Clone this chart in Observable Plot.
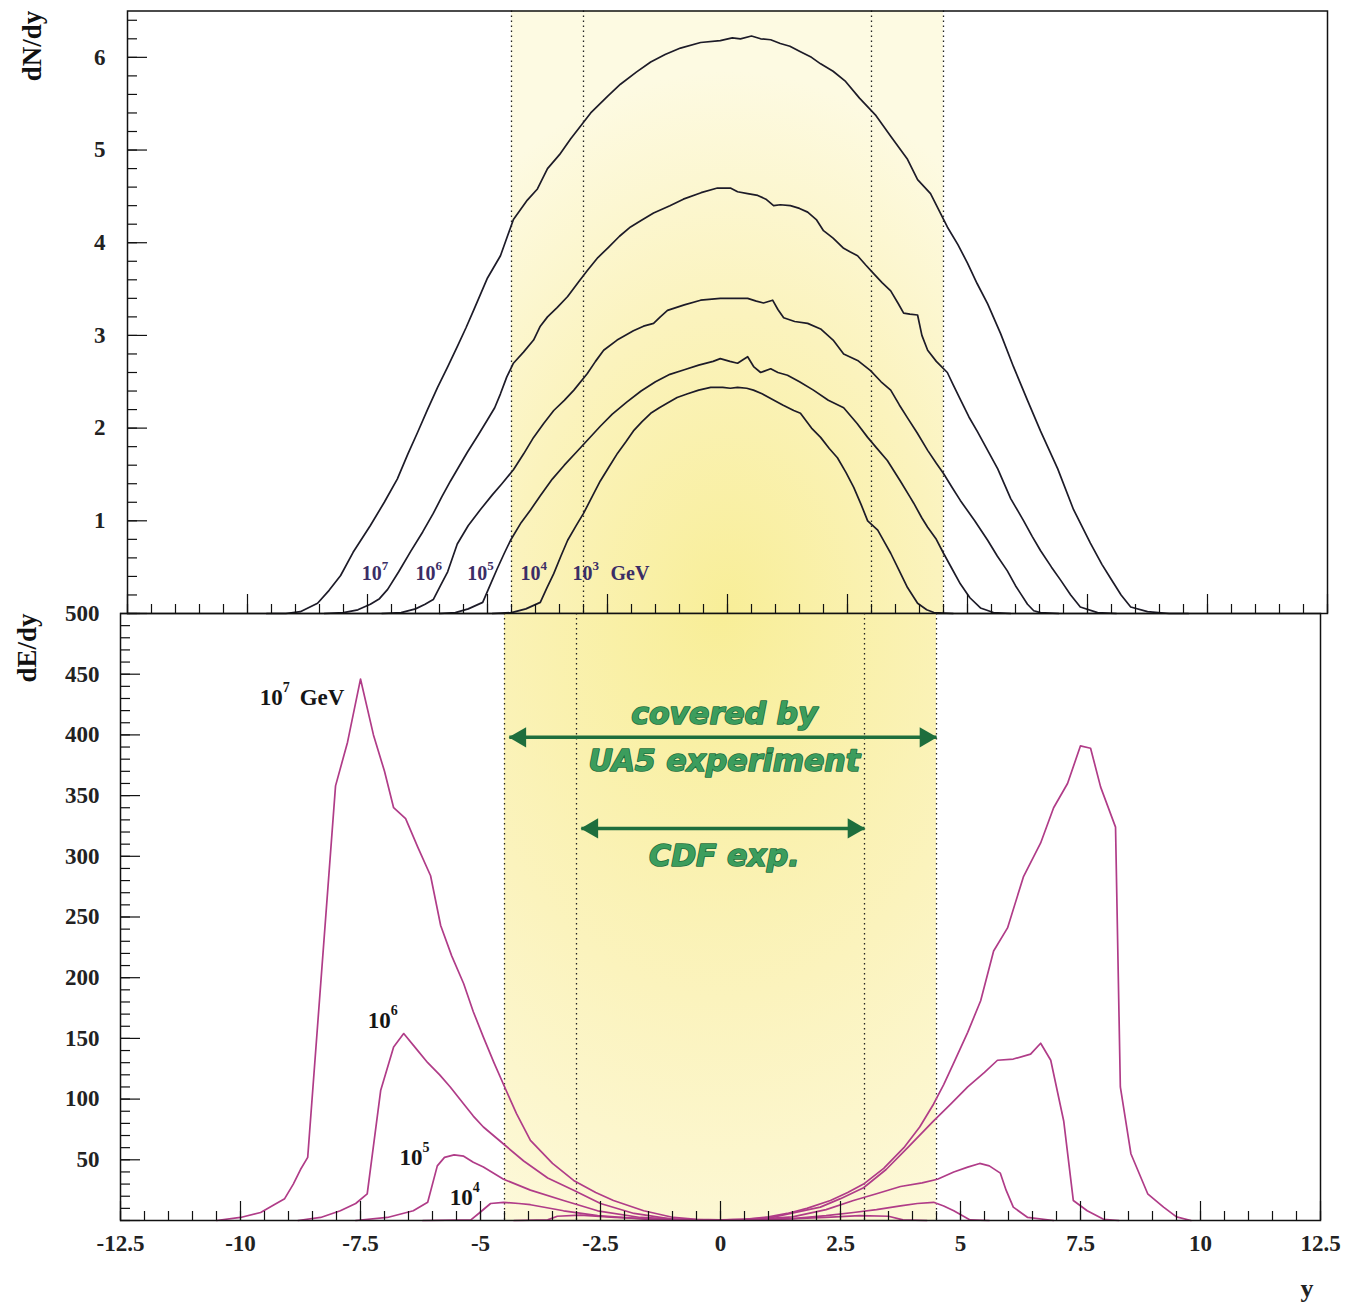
<!DOCTYPE html>
<html><head><meta charset="utf-8">
<script src="https://cdn.jsdelivr.net/npm/d3@7"></script>
<script src="https://cdn.jsdelivr.net/npm/@observablehq/plot@0.6"></script>
<style>
body{margin:0;background:#fff;}
#wrap{position:relative;width:1359px;height:1309px;overflow:hidden;background:#fff;}
.pbox{position:absolute;left:0;}
.ylab{position:absolute;font:bold 27px "Liberation Serif",serif;color:#111;white-space:nowrap;transform:translate(-50%,-50%) rotate(-90deg);}
</style></head><body>
<div id="wrap">
<svg width="0" height="0" style="position:absolute">
  <defs>
    <radialGradient id="bandTop" cx="0.5" cy="1.0" r="0.9">
      <stop offset="0" stop-color="#f8ee98"/>
      <stop offset="0.55" stop-color="#fbf3bd"/>
      <stop offset="1" stop-color="#fdfae2"/>
    </radialGradient>
    <radialGradient id="bandBottom" cx="0.5" cy="0.0" r="1.15">
      <stop offset="0" stop-color="#f8ee98"/>
      <stop offset="0.55" stop-color="#fbf3bd"/>
      <stop offset="1" stop-color="#fdf9dc"/>
    </radialGradient>
  </defs>
</svg>
<div id="top" class="pbox" style="top:0"></div>
<div id="bottom" class="pbox" style="top:600px"></div>
<div class="ylab" style="left:32px;top:46px">dN/dy</div>
<div class="ylab" style="left:27px;top:648px">dE/dy</div>
</div>
<script>
// ---------- data: dN/dy (top panel), [rapidity y, dN/dy] ----------
const dN_1e7 = [[-9.6,0],[-9.2,0],[-8.9,0.02],[-8.54,0.11],[-8.3,0.25],[-8.06,0.41],[-7.8,0.66],[-7.44,0.95],[-7.15,1.2],[-6.88,1.45],[-6.66,1.72],[-6.46,1.95],[-6.25,2.2],[-6.04,2.44],[-5.83,2.66],[-5.63,2.88],[-5.45,3.08],[-5.29,3.27],[-5.0,3.62],[-4.73,3.86],[-4.46,4.25],[-4.17,4.46],[-3.96,4.58],[-3.75,4.8],[-3.5,4.95],[-3.27,5.12],[-2.85,5.4],[-2.5,5.58],[-2.23,5.71],[-1.9,5.84],[-1.6,5.95],[-1.3,6.03],[-0.98,6.1],[-0.56,6.16],[-0.15,6.18],[0.1,6.21],[0.27,6.2],[0.5,6.23],[0.69,6.2],[0.9,6.19],[1.1,6.15],[1.3,6.12],[1.52,6.06],[1.75,6.0],[1.94,5.93],[2.2,5.85],[2.46,5.74],[2.75,5.56],[3.08,5.38],[3.4,5.15],[3.75,4.9],[3.96,4.68],[4.23,4.53],[4.58,4.17],[4.8,3.98],[5.0,3.78],[5.2,3.56],[5.42,3.34],[5.69,3.02],[5.96,2.66],[6.25,2.3],[6.52,1.97],[6.88,1.56],[7.21,1.12],[7.56,0.76],[7.8,0.53],[7.98,0.38],[8.2,0.2],[8.4,0.07],[8.75,0.02],[9.2,0],[9.6,0]];
const dN_1e6 = [[-8.4,0],[-8.0,0.01],[-7.7,0.04],[-7.44,0.1],[-7.25,0.16],[-7.08,0.26],[-6.85,0.45],[-6.6,0.67],[-6.35,0.88],[-6.13,1.08],[-5.95,1.26],[-5.77,1.43],[-5.6,1.58],[-5.42,1.74],[-5.2,1.92],[-5.0,2.09],[-4.85,2.22],[-4.73,2.37],[-4.6,2.55],[-4.46,2.7],[-4.25,2.82],[-4.04,2.95],[-3.9,3.1],[-3.75,3.2],[-3.55,3.3],[-3.33,3.42],[-3.1,3.58],[-2.92,3.7],[-2.7,3.84],[-2.48,3.95],[-2.25,4.07],[-2.02,4.17],[-1.8,4.24],[-1.54,4.32],[-1.2,4.4],[-0.92,4.47],[-0.55,4.54],[-0.21,4.59],[0.06,4.59],[0.21,4.55],[0.42,4.53],[0.63,4.51],[0.8,4.47],[0.96,4.4],[1.1,4.41],[1.31,4.4],[1.5,4.37],[1.67,4.33],[1.85,4.25],[2.0,4.13],[2.2,4.05],[2.42,3.94],[2.56,3.9],[2.71,3.86],[2.88,3.76],[3.04,3.67],[3.22,3.57],[3.4,3.48],[3.55,3.35],[3.67,3.24],[3.8,3.23],[3.96,3.22],[4.05,3.0],[4.17,2.84],[4.35,2.72],[4.58,2.6],[4.7,2.47],[4.85,2.31],[5.03,2.12],[5.21,1.96],[5.42,1.76],[5.63,1.56],[5.9,1.24],[6.17,1.0],[6.35,0.83],[6.52,0.68],[6.75,0.5],[6.94,0.36],[7.15,0.2],[7.35,0.07],[7.71,0.01],[8.1,0]];
const dN_1e5 = [[-7.2,0],[-6.8,0.01],[-6.5,0.05],[-6.3,0.1],[-6.13,0.15],[-5.98,0.3],[-5.83,0.45],[-5.63,0.75],[-5.4,0.95],[-5.15,1.12],[-4.9,1.28],[-4.7,1.4],[-4.46,1.55],[-4.25,1.72],[-4.04,1.9],[-3.83,2.05],[-3.62,2.19],[-3.4,2.3],[-3.2,2.41],[-2.92,2.59],[-2.75,2.72],[-2.58,2.84],[-2.3,2.95],[-1.96,3.05],[-1.75,3.1],[-1.54,3.13],[-1.4,3.2],[-1.25,3.27],[-0.9,3.33],[-0.56,3.38],[-0.15,3.4],[0.15,3.4],[0.42,3.4],[0.6,3.37],[0.75,3.35],[0.94,3.38],[1.05,3.28],[1.17,3.19],[1.4,3.15],[1.67,3.13],[1.94,3.07],[2.2,2.95],[2.42,2.8],[2.71,2.73],[2.98,2.62],[3.2,2.5],[3.4,2.41],[3.58,2.25],[3.75,2.11],[3.95,1.95],[4.17,1.76],[4.35,1.62],[4.5,1.51],[4.68,1.36],[4.85,1.22],[5.15,1.0],[5.42,0.79],[5.62,0.62],[5.83,0.46],[6.0,0.3],[6.1,0.22],[6.25,0.1],[6.38,0.03],[6.52,0.01],[6.9,0]];
const dN_1e4 = [[-6.0,0],[-5.67,0.01],[-5.4,0.05],[-5.1,0.12],[-4.95,0.3],[-4.8,0.48],[-4.65,0.65],[-4.52,0.79],[-4.3,0.98],[-4.1,1.12],[-3.9,1.27],[-3.65,1.45],[-3.4,1.6],[-3.15,1.74],[-2.9,1.88],[-2.65,2.02],[-2.4,2.15],[-2.1,2.28],[-1.8,2.4],[-1.5,2.5],[-1.2,2.58],[-0.9,2.63],[-0.6,2.68],[-0.3,2.72],[-0.15,2.75],[0.05,2.72],[0.21,2.7],[0.33,2.74],[0.42,2.77],[0.55,2.66],[0.69,2.6],[0.9,2.64],[1.05,2.6],[1.25,2.57],[1.5,2.5],[1.79,2.41],[2.1,2.3],[2.42,2.22],[2.7,2.05],[2.92,1.9],[3.1,1.79],[3.33,1.65],[3.6,1.43],[3.81,1.25],[3.88,1.19],[4.05,1.03],[4.17,0.93],[4.35,0.8],[4.5,0.65],[4.68,0.48],[4.85,0.32],[5.05,0.17],[5.27,0.06],[5.54,0.01],[5.9,0]];
const dN_1e3 = [[-4.9,0],[-4.5,0.01],[-4.2,0.05],[-3.9,0.12],[-3.76,0.28],[-3.62,0.43],[-3.47,0.62],[-3.33,0.79],[-3.15,0.95],[-3.0,1.08],[-2.82,1.26],[-2.65,1.43],[-2.47,1.58],[-2.29,1.73],[-2.12,1.85],[-1.96,1.97],[-1.78,2.07],[-1.6,2.16],[-1.42,2.22],[-1.25,2.27],[-1.05,2.33],[-0.83,2.37],[-0.6,2.41],[-0.35,2.44],[-0.1,2.44],[0.06,2.43],[0.21,2.44],[0.4,2.43],[0.54,2.41],[0.72,2.37],[0.9,2.32],[1.15,2.25],[1.38,2.19],[1.52,2.16],[1.75,2.0],[1.94,1.9],[2.12,1.78],[2.29,1.68],[2.47,1.52],[2.63,1.36],[2.78,1.18],[2.92,1.0],[3.13,0.9],[3.27,0.77],[3.4,0.65],[3.58,0.46],[3.75,0.28],[3.96,0.11],[4.15,0.04],[4.3,0.01],[4.7,0]];

// ---------- data: dE/dy (bottom panel), [rapidity y, dE/dy] ----------
const dE_1e7 = [[-10.5,0],[-10.0,2.5],[-9.58,6.6],[-9.3,13],[-9.08,18],[-8.9,30],[-8.75,42],[-8.6,52],[-8.02,358],[-7.77,394],[-7.5,446],[-7.23,400],[-7.0,370],[-6.81,340],[-6.56,331],[-6.3,307],[-6.04,284],[-5.83,243],[-5.6,218],[-5.35,195],[-5.15,172],[-4.94,151],[-4.72,130],[-4.52,112],[-4.25,88],[-3.96,66],[-3.5,47],[-3.06,33],[-2.6,23],[-2.23,16.5],[-1.6,8],[-0.98,2.5],[-0.5,1],[0,0.5],[0.5,1],[1.0,3],[1.39,5.8],[1.8,10],[2.29,16.5],[2.65,23],[2.98,30],[3.4,43],[3.82,60],[4.15,77],[4.44,96],[4.65,112],[4.85,129],[5.15,155],[5.42,181],[5.69,222],[5.98,241],[6.31,283],[6.67,311],[6.94,340],[7.23,360],[7.5,391],[7.71,389],[7.92,357],[8.23,324],[8.33,110],[8.55,55],[8.9,22],[9.23,11],[9.5,3],[9.8,0]];
const dE_1e6 = [[-8.8,0],[-8.33,2.5],[-7.92,8],[-7.6,14],[-7.36,22],[-7.08,107],[-6.81,143],[-6.6,154],[-6.35,142],[-6.1,130],[-5.85,120],[-5.63,110],[-5.35,96],[-5.15,86],[-4.94,77],[-4.52,63],[-4.1,49],[-3.6,35],[-3.06,25],[-2.5,14],[-1.8,5.8],[-0.98,1],[0,0.3],[1.0,2],[2.08,11],[2.5,18],[2.98,27],[3.45,42],[3.9,60],[4.44,82],[4.8,96],[5.15,110],[5.5,122],[5.77,132],[6.1,133],[6.46,137],[6.67,146],[6.88,132],[7.15,82],[7.35,16.5],[7.64,8],[7.98,1],[8.3,0]];
const dE_1e5 = [[-7.6,0],[-6.94,2.5],[-6.4,8],[-6.1,15],[-5.9,45],[-5.75,52],[-5.55,54],[-5.35,53],[-5.15,48],[-4.94,44],[-4.52,34],[-3.96,25],[-3.27,16.5],[-2.56,8],[-1.67,2.5],[-0.5,0.3],[0.5,0.3],[1.5,3],[2.2,9],[2.77,16.5],[3.25,22],[3.75,28],[4.2,31],[4.52,34],[4.86,40],[5.15,44],[5.4,47],[5.6,45],[5.83,39],[5.95,25],[6.1,11],[6.4,2.5],[6.94,0]];
const dE_1e4 = [[-6.2,0],[-5.2,0.5],[-5.0,7],[-4.79,14],[-4.52,15],[-4.2,14],[-3.96,13],[-3.27,8],[-2.56,4],[-1.5,1],[0,0.2],[1.5,1.5],[2.2,4],[2.77,6.6],[3.25,9],[3.75,12],[4.1,14],[4.44,15],[4.65,12],[4.86,8],[5.2,0.5],[5.6,0]];
const dE_1e3 = [[-4.3,0],[-3.6,0.5],[-3.4,3.5],[-2.92,4.5],[-2.2,2.5],[-1,0.6],[0,0.2],[1,0.6],[2.2,2.5],[2.9,4],[3.5,3.5],[3.8,0.5],[4.3,0]];

// ---------- ticks / labels ----------
const xDomain = [-12.5, 12.5];
const xMinorTicks = d3.range(-12.5, 12.5001, 0.5);
const xMajorTicks = [-12.5, -10, -7.5, -5, -2.5, 0, 2.5, 5, 7.5, 10, 12.5];
const xTickLabels = ["-12.5","-10","-7.5","-5","-2.5","0","2.5","5","7.5","10","12.5"];
const dNMinorTicks = d3.range(0, 6.5001, 0.2);
const dNMajorTicks = [0, 1, 2, 3, 4, 5, 6];
const dNTickLabels = [1, 2, 3, 4, 5, 6];
const dEMinorTicks = d3.range(0, 500.001, 10);
const dEMajorTicks = d3.range(0, 500.001, 50);
const dETickLabels = [50, 100, 150, 200, 250, 300, 350, 400, 450, 500];

// ---------- annotations ----------
const ua5Range = [-4.5, 4.5];
const cdfRange = [-3, 3];
const topCurveLabels = [
  {x: -7.62, v: 0.43, exp: "7", unit: ""},
  {x: -6.5, v: 0.43, exp: "6", unit: ""},
  {x: -5.42, v: 0.43, exp: "5", unit: ""},
  {x: -4.31, v: 0.43, exp: "4", unit: ""},
  {x: -3.23, v: 0.43, exp: "3", unit: "GeV"}
];
const bottomCurveLabels = [
  {x: -9.6, v: 431, exp: "7", unit: "GeV"},
  {x: -7.35, v: 165, exp: "6", unit: ""},
  {x: -6.69, v: 52, exp: "5", unit: ""},
  {x: -5.64, v: 19, exp: "4", unit: ""}
];
// double-headed arrows: shaft from left end to right end
const greenArrows = [
  {left: -4.4, right: 4.5, v: 398},
  {left: -2.9, right: 3.0, v: 323}
];
const greenTexts = [
  {x: 0.08, v: 417, text: "covered by"},
  {x: 0.08, v: 378, text: "UA5 experiment"},
  {x: 0.08, v: 300, text: "CDF exp."}
];

const W = 1359;
const serif = "Liberation Serif, Times New Roman, serif";
const curveDark = "#1d1b28";
const curvePink = "#b03c88";
const labelPurple = "#3b2d66";
const green = "#3c9d5d", greenDark = "#1e6e3d";

function curveLabelMarks(labels, o) {
  return [
    Plot.text(labels, {x: d => d.x, y: d => d.v, text: () => "10", textAnchor: "start", fill: o.color, fontSize: o.size, fontWeight: "bold", fontFamily: serif}),
    Plot.text(labels, {x: d => d.x, y: d => d.v, text: d => d.exp, textAnchor: "start", dx: o.expDx, dy: o.expDy, fill: o.color, fontSize: o.expSize, fontWeight: "bold", fontFamily: serif}),
    Plot.text(labels.filter(d => d.unit), {x: d => d.x, y: d => d.v, text: d => d.unit, textAnchor: "start", dx: o.unitDx, fill: o.color, fontSize: o.size, fontWeight: "bold", fontFamily: serif})
  ];
}

// ---------- top panel ----------
const topFrameH = 613 - 10.5;
const topPlot = Plot.plot({
  width: W, height: 640,
  marginLeft: 127, marginRight: W - 1327, marginTop: 10.5, marginBottom: 27,
  x: {domain: xDomain, axis: null},
  y: {domain: [0, 6.5], axis: null},
  style: {background: "transparent", overflow: "visible"},
  marks: [
    Plot.rect([ua5Range], {x1: d => d[0], x2: d => d[1], y1: () => 0, y2: () => 6.5, fill: "url(#bandTop)"}),
    Plot.ruleX([...ua5Range, ...cdfRange], {x: d => d, stroke: "#222", strokeWidth: 1.3, strokeDasharray: "1.5,3.5"}),
    ...[dN_1e7, dN_1e6, dN_1e5, dN_1e4, dN_1e3].map(s =>
      Plot.line(s, {x: d => d[0], y: d => d[1], stroke: curveDark, strokeWidth: 1.7})),
    Plot.tickY(dNMinorTicks, {y: d => d, insetRight: 1200 - 10, stroke: "#111", strokeWidth: 1.2}),
    Plot.tickY(dNMajorTicks, {y: d => d, insetRight: 1200 - 20, stroke: "#111", strokeWidth: 1.2}),
    Plot.tickX(xMinorTicks, {x: d => d, insetTop: topFrameH - 9, stroke: "#111", strokeWidth: 1.2}),
    Plot.tickX(xMajorTicks, {x: d => d, insetTop: topFrameH - 19, stroke: "#111", strokeWidth: 1.2}),
    Plot.text(dNTickLabels, {y: d => d, frameAnchor: "left", dx: -22, textAnchor: "end", text: d => String(d), fontSize: 23, fontWeight: "bold", fontFamily: serif, fill: "#222"}),
    ...curveLabelMarks(topCurveLabels, {color: labelPurple, size: 20, expSize: 13, expDx: 20, expDy: -8, unitDx: 38}),
    Plot.frame({stroke: "#111", strokeWidth: 1.5})
  ]
});
document.getElementById("top").appendChild(topPlot);

// ---------- bottom panel ----------
const botFrameH = 607;
const bottomPlot = Plot.plot({
  width: W, height: 709,
  marginLeft: 120, marginRight: W - 1320, marginTop: 13, marginBottom: 89,
  x: {domain: xDomain, axis: null},
  y: {domain: [0, 500], axis: null},
  style: {background: "transparent", overflow: "visible"},
  marks: [
    Plot.rect([ua5Range], {x1: d => d[0], x2: d => d[1], y1: () => 0, y2: () => 500, fill: "url(#bandBottom)"}),
    Plot.ruleX([...ua5Range, ...cdfRange], {x: d => d, stroke: "#222", strokeWidth: 1.3, strokeDasharray: "1.5,3.5"}),
    ...[dE_1e3, dE_1e4, dE_1e5, dE_1e6, dE_1e7].map(s =>
      Plot.line(s, {x: d => d[0], y: d => d[1], stroke: curvePink, strokeWidth: 1.7})),
    Plot.tickY(dEMinorTicks, {y: d => d, insetRight: 1200 - 10, stroke: "#111", strokeWidth: 1.2}),
    Plot.tickY(dEMajorTicks, {y: d => d, insetRight: 1200 - 20, stroke: "#111", strokeWidth: 1.2}),
    Plot.tickX(xMinorTicks, {x: d => d, insetTop: botFrameH - 9, stroke: "#111", strokeWidth: 1.2}),
    Plot.tickX(xMajorTicks, {x: d => d, insetTop: botFrameH - 19, stroke: "#111", strokeWidth: 1.2}),
    Plot.text(dETickLabels, {y: d => d, frameAnchor: "left", dx: -21, textAnchor: "end", text: d => String(d), fontSize: 23, fontWeight: "bold", fontFamily: serif, fill: "#222"}),
    Plot.text(xMajorTicks, {x: d => d, frameAnchor: "bottom", dy: 30, text: (d, i) => xTickLabels[i], fontSize: 23, fontWeight: "bold", fontFamily: serif, fill: "#222"}),
    Plot.text(["y"], {frameAnchor: "bottom-right", dx: -7, dy: 76, text: d => d, fontSize: 26, fontWeight: "bold", fontFamily: serif, fill: "#222"}),
    ...curveLabelMarks(bottomCurveLabels, {color: "#151515", size: 23, expSize: 14, expDx: 23, expDy: -10, unitDx: 40}),
    // arrow shafts
    Plot.link(greenArrows, {x1: d => d.left, x2: d => d.right, y1: d => d.v, y2: d => d.v, stroke: greenDark, strokeWidth: 3.5, insetLeft: 0}),
    // filled arrow heads
    Plot.dot(greenArrows, {x: d => d.left, y: d => d.v, symbol: "triangle", r: 7.5, rotate: -90, dx: 11, fill: greenDark, stroke: "none"}),
    Plot.dot(greenArrows, {x: d => d.right, y: d => d.v, symbol: "triangle", r: 7.5, rotate: 90, dx: -11, fill: greenDark, stroke: "none"}),
    Plot.text(greenTexts, {x: d => d.x, y: d => d.v, text: d => d.text, fill: green, stroke: greenDark, strokeWidth: 1.6, fontSize: 30, fontWeight: "bold", fontStyle: "italic", fontFamily: "DejaVu Sans, sans-serif"}),
    Plot.frame({stroke: "#111", strokeWidth: 1.5})
  ]
});
document.getElementById("bottom").appendChild(bottomPlot);
</script>
</body></html>
